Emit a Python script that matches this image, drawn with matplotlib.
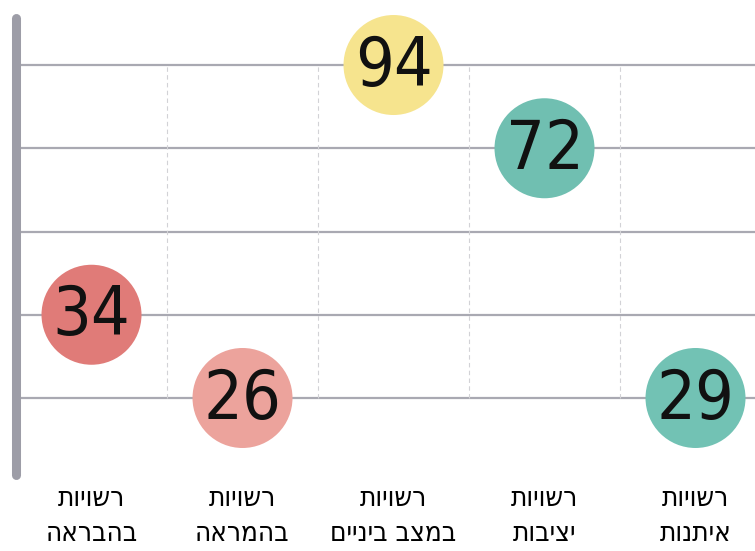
import matplotlib.pyplot as plt

# data
categories = [("רשויות", "בהבראה"), ("רשויות", "בהמראה"), ("רשויות", "במצב ביניים"),
              ("רשויות", "יציבות"), ("רשויות", "איתנות")]
values = [34, 26, 94, 72, 29]
levels = [2, 1, 5, 4, 1]          # row each bubble sits on
colors = ["#e07b78", "#eca39c", "#f6e48e", "#70bfb1", "#72c2b4"]
rows = [1, 2, 3, 4, 5]


def rtl(s):
    # matplotlib has no bidi support, flip hebrew for display
    return s[::-1]


fig = plt.figure(figsize=(7.55, 5.51), dpi=100)
ax = fig.add_axes([0, 0, 1, 1])
ax.set_xlim(-0.606, 4.394)
ax.set_ylim(-0.838, 5.781)
ax.axis("off")

n = len(values)
# horizontal rows
ax.hlines(rows, -0.5, 4.6, color="#a9a9b2", lw=1.6, zorder=1)
# dashed column separators
ax.vlines([i + 0.5 for i in range(n - 1)], rows[0], rows[-1], color="#d2d2d6",
          lw=0.8, linestyles=(0, (4, 3)), zorder=1)
# thick left axis bar
ax.plot([-0.5, -0.5], [0.07, 5.57], color="#9d9da7", lw=6.5,
        solid_capstyle="round", zorder=2)

xs = list(range(n))
ax.scatter(xs, levels, s=5184, c=colors, edgecolors="none", zorder=3)
for x, y, v in zip(xs, levels, values):
    ax.text(x, y - 0.02, str(v), ha="center", va="center", fontsize=49,
            family="DejaVu Sans", fontstretch="condensed", color="#111111",
            zorder=4)

for x, (l1, l2) in zip(xs, categories):
    ax.text(x, -0.2, rtl(l1), ha="center", va="center", fontsize=20,
            family="DejaVu Sans", fontstretch="condensed")
    ax.text(x, -0.62, rtl(l2), ha="center", va="center", fontsize=20,
            family="DejaVu Sans", fontstretch="condensed")

fig.savefig("out.png", dpi=100)
